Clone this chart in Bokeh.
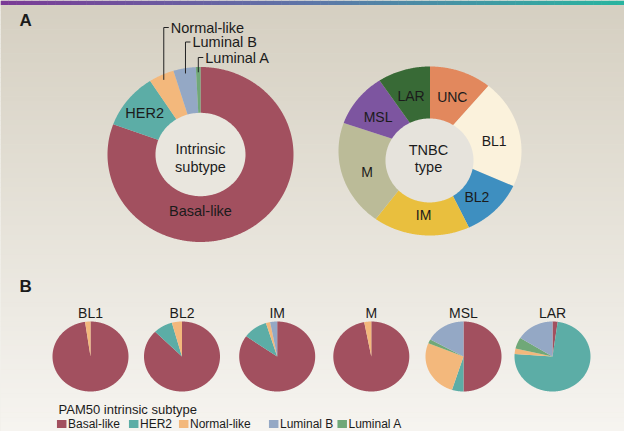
import numpy as np
from bokeh.plotting import figure
from bokeh.models import Range1d
from bokeh.embed import file_html
from bokeh.resources import INLINE
from bokeh.core.properties import value

# ---------------- data ----------------
subtypes = ["Basal-like", "HER2", "Normal-like", "Luminal B", "Luminal A"]
subtype_colors = ["#a2505f", "#5cada6", "#f3b87c", "#94a8c5", "#70a878"]
# panel A, intrinsic subtype (%), clockwise from 12 o'clock
intrinsic_pct = [80.6, 10.3, 4.4, 3.9, 0.8]

tnbc_types = ["UNC", "BL1", "BL2", "IM", "M", "MSL", "LAR"]
tnbc_colors = ["#e2885d", "#fbf2dc", "#3e8fc0", "#e9bf3e", "#bbbb98", "#7d55a0", "#386a36"]
tnbc_pct = [11.0, 20.8, 11.2, 17.1, 20.3, 10.3, 9.3]

# panel B, PAM50 composition of each TNBC type (%), clockwise order below
pie_types = ["BL1", "BL2", "IM", "M", "MSL", "LAR"]
pie_order = ["Basal-like", "HER2", "Normal-like", "Luminal A", "Luminal B"]
pie_basal = [97.7, 87.5, 84.8, 97.0, 50.0, 2.2]
pie_her2 = [0.0, 8.2, 10.4, 0.0, 4.9, 73.9]
pie_normal = [2.3, 4.3, 1.8, 3.0, 26.3, 2.6]
pie_luma = [0.0, 0.0, 0.0, 0.0, 1.9, 5.2]
pie_lumb = [0.0, 0.0, 3.0, 0.0, 16.9, 16.1]

legend_title = "PAM50 intrinsic subtype"

# ---------------- layout ----------------
FONT = value("Liberation Sans")
TXT = "#1b1b1b"
color_of = dict(zip(subtypes, subtype_colors))

p = figure(width=624, height=431, x_range=Range1d(8, 632), y_range=Range1d(439, 8),
           output_backend="svg", toolbar_location=None, min_border=0,
           x_axis_location=None, y_axis_location=None)
p.grid.visible = False
p.outline_line_color = None
p.background_fill_color = "#e6e2d8"
p.border_fill_color = "#e6e2d8"


def lerp_color(stops, t):
    pos = [s[0] for s in stops]
    cols = [np.array([int(s[1][i:i + 2], 16) for i in (1, 3, 5)], float) for s in stops]
    for k in range(len(stops) - 1):
        if pos[k] <= t <= pos[k + 1]:
            f = (t - pos[k]) / (pos[k + 1] - pos[k])
            c = cols[k] * (1 - f) + cols[k + 1] * f
            return "#%02x%02x%02x" % tuple(int(round(v)) for v in c)
    return stops[-1][1]


# background vertical gradient
n_bg = 90
edges = np.linspace(8, 439, n_bg + 1)
bg_stops = [(0.0, "#d5cfc1"), (0.45, "#e4e0d6"), (1.0, "#f6f4f0")]
p.quad(left=8, right=632, top=edges[:-1], bottom=edges[1:] + 0.5,
       color=[lerp_color(bg_stops, i / (n_bg - 1)) for i in range(n_bg)], line_color=None)

# top gradient bar
n_bar = 80
bx = np.linspace(8, 632, n_bar + 1)
bar_stops = [(0.0, "#7a3a96"), (0.5, "#5d76a8"), (1.0, "#28b4a0")]
p.quad(left=bx[:-1], right=bx[1:] + 0.5, top=8, bottom=12.5,
       color=[lerp_color(bar_stops, i / (n_bar - 1)) for i in range(n_bar)], line_color=None)


def wedges(cx, cy, rx, ry, pcts, colors):
    xs, ys, cs, mids = [], [], [], []
    a = 0.0
    for v, c in zip(pcts, colors):
        a1 = a + 360.0 * v / sum(pcts)
        if v > 0:
            t = np.radians(np.linspace(a, a1, max(int((a1 - a) * 2), 3)))
            xs.append([cx] + list(cx + rx * np.sin(t)))
            ys.append([cy] + list(cy - ry * np.cos(t)))
            cs.append(c)
        mids.append((a + a1) / 2)
        a = a1
    p.patches(xs, ys, fill_color=cs, line_color=None)
    return mids


def ellipse_patch(cx, cy, rx, ry, color):
    t = np.radians(np.linspace(0, 360, 200))
    p.patch(cx + rx * np.sin(t), cy - ry * np.cos(t), fill_color=color, line_color=None)


def label(x, y, txt, size="14px", align="center", style="normal"):
    p.text(x=x, y=y, text=txt if isinstance(txt, list) else [txt],
           text_font=FONT, text_font_size=size, text_align=align,
           text_baseline="middle", text_color=TXT, text_font_style=style)


# panel letters
label([27], [28], "A", size="17px", align="left", style="bold")
label([27], [294], "B", size="17px", align="left", style="bold")

# ---- donut A: intrinsic subtype ----
acx, acy, arx, ary = 208, 162, 93, 87.5
midsA = wedges(acx, acy, arx, ary, intrinsic_pct, subtype_colors)
ellipse_patch(acx, acy, 45, 41.7, "#e9e6de")
label([acx, acx], [156, 174], ["Intrinsic", "subtype"], size="14.5px")
# in-ring labels: Basal-like, HER2
la = np.radians(180.0)
label([acx + np.sin(la) * 0.65 * arx], [acy - np.cos(la) * 0.65 * ary], "Basal-like", size="14.5px")
lh = np.radians(midsA[1])
label([acx + np.sin(lh) * 0.77 * arx], [acy - np.cos(lh) * 0.75 * ary], "HER2", size="14.5px")
# leader labels for small slices
leader_text_y = [35, 49.5, 65]
for k, ty in zip([2, 3, 4], leader_text_y):
    m = np.radians(midsA[k])
    x0 = acx + np.sin(m) * 0.94 * arx
    y0 = acy - np.cos(m) * 0.94 * ary
    p.line([x0, x0, x0 + 5], [y0, ty, ty], line_color="#222222", line_width=1)
    label([x0 + 7], [ty], subtypes[k], align="left", size="14.5px")

# ---- donut B: TNBC type ----
bcx, bcy, brx, bry = 437.5, 158.5, 91.5, 84.5
midsB = wedges(bcx, bcy, brx, bry, tnbc_pct, tnbc_colors)
ellipse_patch(437, 168, 44, 42, "#e6e3dc")
label([436, 436], [157, 174], ["TNBC", "type"], size="14.5px")
mb = np.radians(np.array(midsB))
label(list(bcx + np.sin(mb) * 0.72 * brx), list(bcy + 3.5 - np.cos(mb) * 0.72 * bry), tnbc_types)

# ---- panel B: small pies ----
pie_cx = [98, 189.5, 284.7, 378.8, 471, 560]
pie_cy, pie_rx, pie_ry = 364, 38, 35
comp = [pie_basal, pie_her2, pie_normal, pie_luma, pie_lumb]
for i, name in enumerate(pie_types):
    vals = [c[i] for c in comp]
    wedges(pie_cx[i], pie_cy, pie_rx, pie_ry, vals, [color_of[s] for s in pie_order])
label(pie_cx, [320] * len(pie_cx), pie_types)

# ---- legend ----
label([66], [417], legend_title, size="13px", align="left")
legend_x = [64.5, 136.5, 186.5, 276.5, 345]
p.rect(x=[lx + 4.7 for lx in legend_x], y=[431.5] * 5, width=9.5, height=8,
       fill_color=subtype_colors, line_color=None)
label([lx + 11 for lx in legend_x], [431.5] * 5, subtypes, size="12px", align="left")

open("out.html", "w").write(file_html(p, INLINE))
